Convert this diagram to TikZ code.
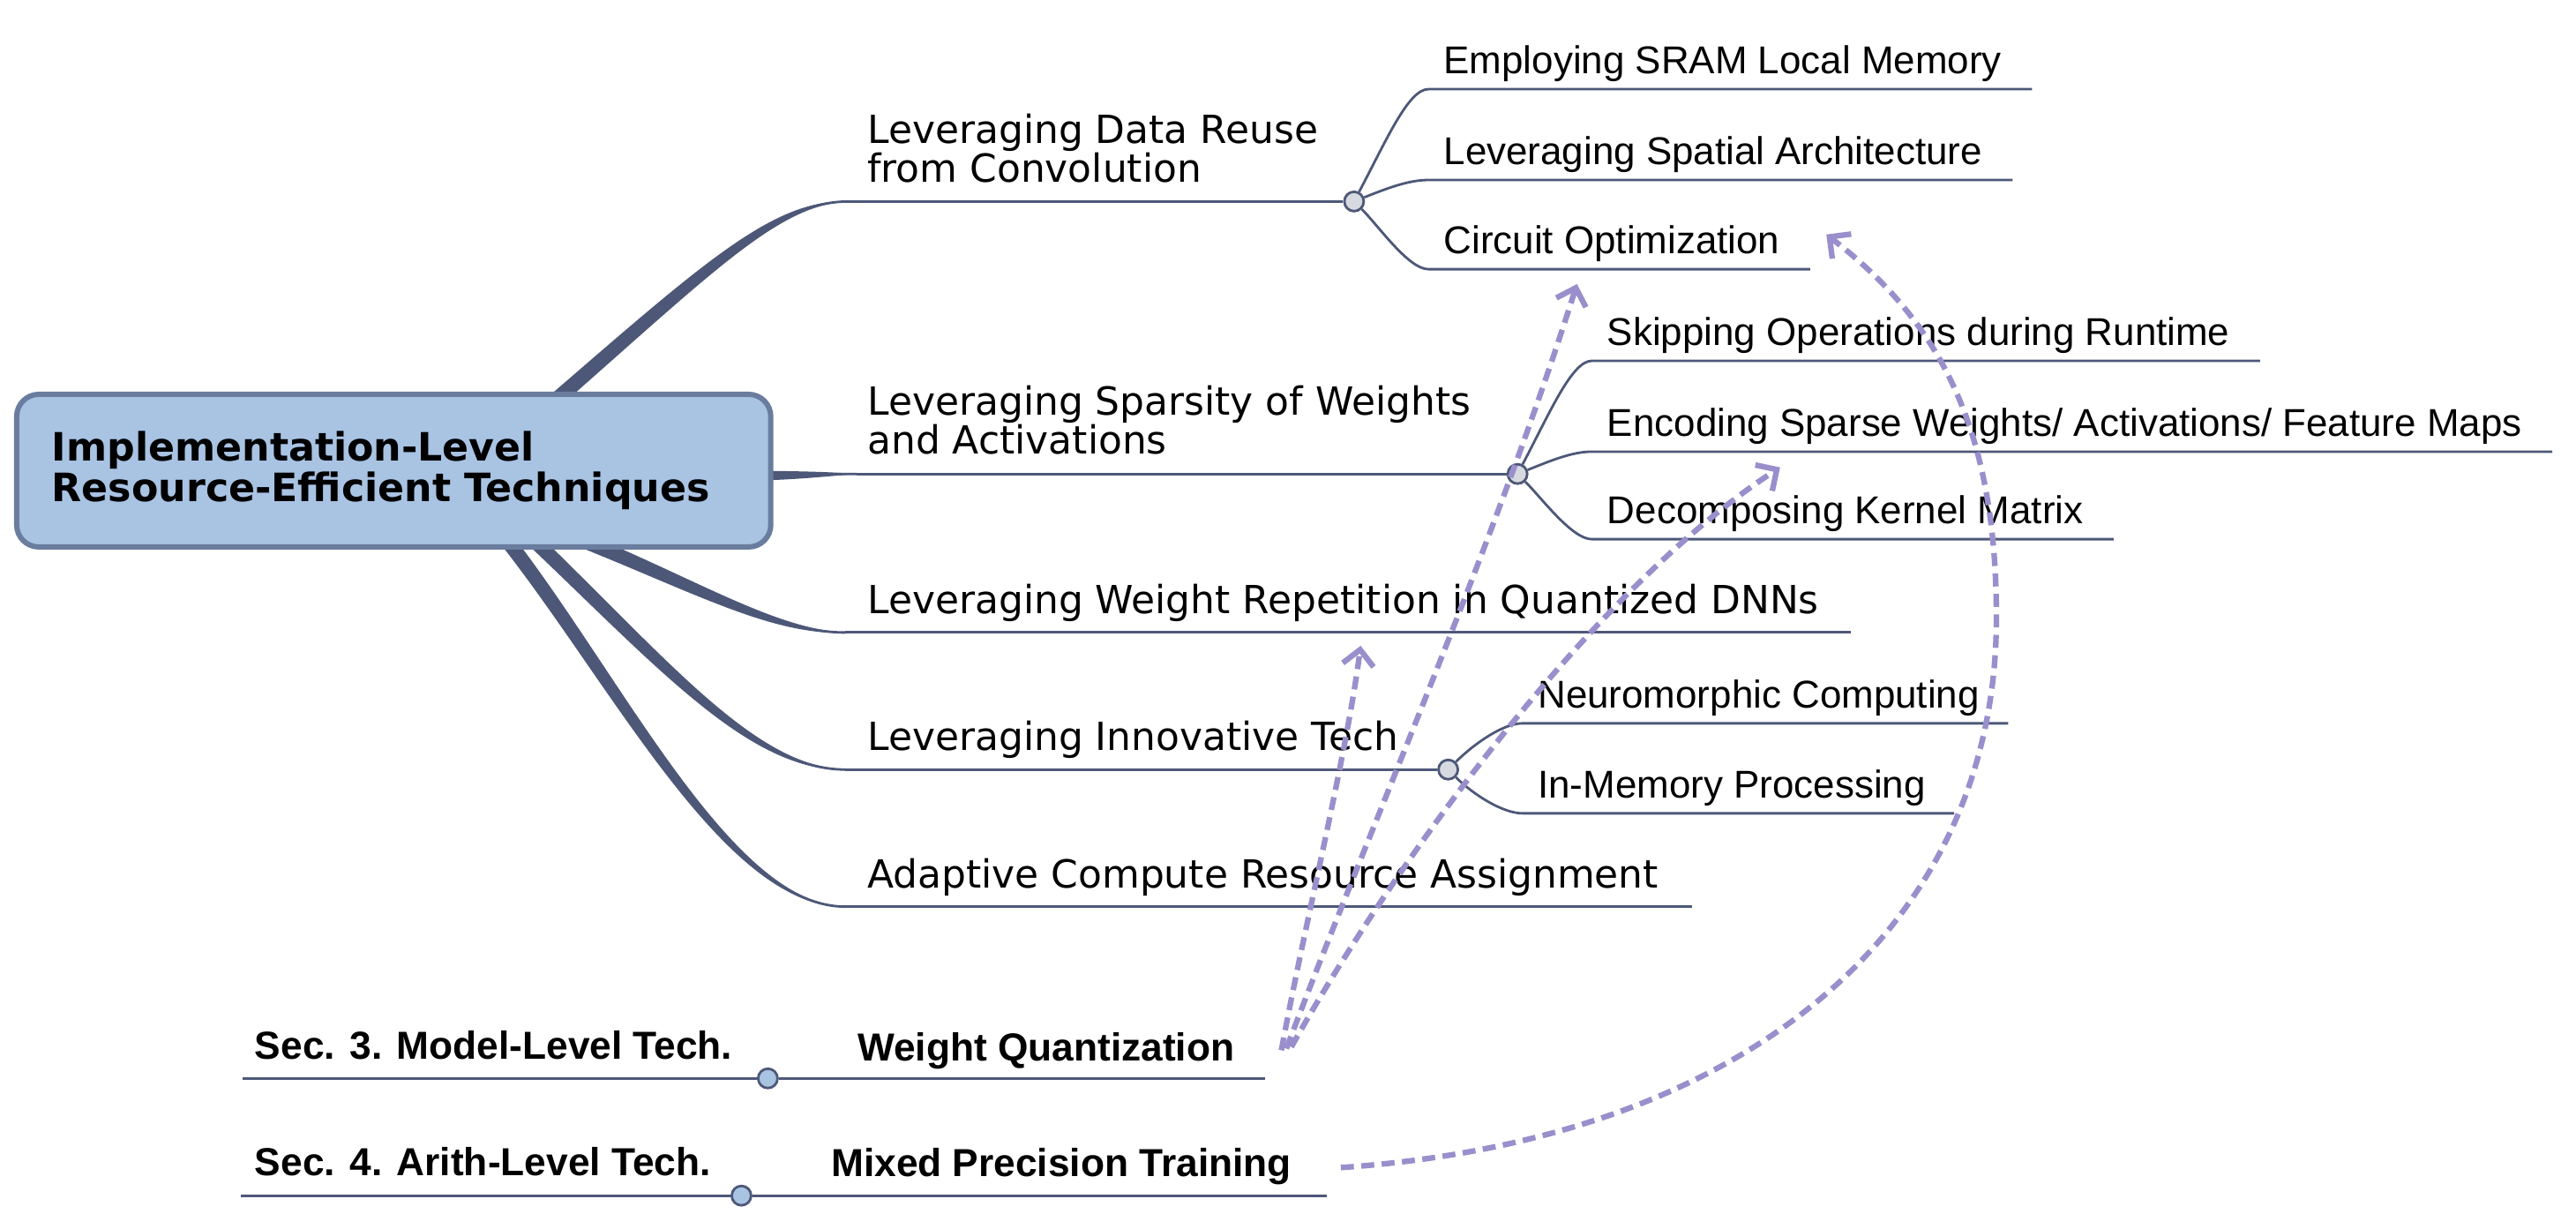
\documentclass[tikz,border=0pt]{standalone}
\usepackage{fontspec}
\setmainfont{DejaVu Sans}
\newfontfamily\arial{Liberation Sans}
\usetikzlibrary{arrows.meta,calc,backgrounds}

\definecolor{limbcol}{HTML}{4D5878}
\definecolor{rootfill}{HTML}{A9C3E3}
\definecolor{rootline}{HTML}{6A7D9F}
\definecolor{hubfill}{HTML}{D6D9E0}
\definecolor{linkcol}{HTML}{9A8FCC}

% tapered branch: start, control, control, end, half width at start
\newcommand{\limb}[5]{%
  \fill[limbcol] ($(#1)+(#5)$) .. controls ($(#2)+0.9*(#5)$) and ($(#3)+0.5*(#5)$) .. (#4)
    .. controls ($(#3)-0.5*(#5)$) and ($(#2)-0.9*(#5)$) .. ($(#1)-(#5)$) -- cycle;
  \draw[twig] (#1) .. controls (#2) and (#3) .. (#4);}

\tikzset{
  twig/.style={draw=limbcol, line width=0.8pt},
  rootbox/.style={draw=rootline, fill=rootfill, line width=1.7pt, rounded corners=0.25cm,
    minimum height=1.73cm, text width=7.75cm, inner xsep=0.4cm, align=left,
    font=\bfseries\fontsize{12.6}{11.9}\selectfont},
  topic/.style={font=\fontsize{12.5}{12.5}\selectfont, inner sep=0pt, anchor=south west,
    text depth=0pt, align=left},
  leaf/.style={font=\arial\fontsize{12.5}{14}\selectfont, inner sep=0pt, anchor=south west,
    text depth=0pt},
  sect/.style={leaf, font=\arial\bfseries\fontsize{12.6}{14}\selectfont},
  hub/.style={circle, draw=limbcol, fill=hubfill, line width=0.8pt, minimum size=0.22cm,
    inner sep=0pt},
  link/.style={draw=linkcol, line width=1.8pt, dash pattern=on 4.2pt off 2.4pt,
    -{Straight Barb[length=5pt,width=10pt]}},
}

\begin{document}
\begin{tikzpicture}[x=0.01872cm, y=-0.01872cm]
  \useasboundingbox (0,0) rectangle (1560,735);

  % centre topic
  \node[rootbox, anchor=west] (rt) at (8.5,285) {Implementation-Level\\Resource-Efficient Techniques};

  % first level
  \node[topic] (reuse) at (525,110.5) {Leveraging Data Reuse\\from Convolution};
  \node[topic] (sparse) at (525,275) {Leveraging Sparsity of Weights\\and Activations};
  \node[topic] (repeat) at (525,372) {Leveraging Weight Repetition in Quantized DNNs};
  \node[topic] (innov) at (525,455) {Leveraging Innovative Tech};
  \node[topic] (adapt) at (525,538) {Adaptive Compute Resource Assignment};
  \node[hub] (hub1) at (820,122) {};
  \node[hub] (hub2) at (919,287) {};
  \node[hub] (hub3) at (877,466) {};

  % second level
  \node[leaf] (sram) at (874,45) {Employing SRAM Local Memory};
  \node[leaf] (spatial) at (874,100) {Leveraging Spatial Architecture};
  \node[leaf] (circuit) at (874,154) {Circuit Optimization};
  \node[leaf] (skip) at (973,209.5) {Skipping Operations during Runtime};
  \node[leaf] (encode) at (973,264.5) {Encoding Sparse Weights/ Activations/ Feature Maps};
  \node[leaf] (decomp) at (973,317.5) {Decomposing Kernel Matrix};
  \node[leaf] (neuro) at (931,429) {Neuromorphic Computing};
  \node[leaf] (inmem) at (931,483.5) {In-Memory Processing};

  % other sections
  \node[sect] (sec3) at (154,642) {Sec. 3. Model-Level Tech.};
  \node[sect] (wq) at (519,643) {Weight Quantization};
  \node[sect] (sec4) at (154,712) {Sec. 4. Arith-Level Tech.};
  \node[sect] (mpt) at (503,713) {Mixed Precision Training};
  \node[hub, fill=rootfill] (dot3) at (465,653) {};
  \node[hub, fill=rootfill] (dot4) at (449,724) {};

  \begin{scope}[on background layer]
    \coordinate (rt1) at (330,248);
    \coordinate (rt2) at (455,288);
    \coordinate (rt3) at (345,324);
    \coordinate (rt4) at (318,322);
    \coordinate (rt5) at (303,322);
    \coordinate (reuse-s) at (514,122);
    \coordinate (sparse-s) at (519,287);
    \coordinate (repeat-s) at (512,383);
    \coordinate (innov-s) at (512,466);
    \coordinate (adapt-s) at (512,549);
    \limb{rt1}{430,161}{470,122}{reuse-s}{3,3.4}
    \limb{rt2}{480,288}{500,287}{sparse-s}{0,3}
    \limb{rt3}{420,354}{468,383}{repeat-s}{-1.7,4.2}
    \limb{rt4}{400,400}{455,466}{innov-s}{-3.1,3.2}
    \limb{rt5}{373,410}{440,549}{adapt-s}{-3.5,2.8}
    \draw[twig] (reuse-s) -- (hub1);
    \draw[twig] (sparse-s) -- (hub2);
    \draw[twig] (repeat-s) -- ($(repeat.south east)+(19,11)$);
    \draw[twig] (innov-s) -- (hub3);
    \draw[twig] (adapt-s) -- ($(adapt.south east)+(20,11)$);
    % leaves
    \foreach \k/\c in {sram/{20,-38}, spatial/{20,-8}, circuit/{15,15}}
      \draw[twig] (hub1) .. controls +(\c) and +(-12,0) .. ($(\k.south west)+(-9,9)$)
        -- ($(\k.south east)+(18,9)$);
    \foreach \k/\c in {skip/{20,-38}, encode/{20,-8}, decomp/{15,15}}
      \draw[twig] (hub2) .. controls +(\c) and +(-12,0) .. ($(\k.south west)+(-9,9)$)
        -- ($(\k.south east)+(18,9)$);
    \foreach \k/\c in {neuro/{15,-15}, inmem/{15,15}}
      \draw[twig] (hub3) .. controls +(\c) and +(-12,0) .. ($(\k.south west)+(-9,9)$)
        -- ($(\k.south east)+(17,9)$);
    % section rows
    \draw[twig] ($(sec3.south west)+(-7,11)$) -- (dot3) -- ($(wq.south west)+(-16,10)$)
      -- ($(wq.south east)+(18,10)$);
    \draw[twig] ($(sec4.south west)+(-8,12)$) -- (dot4) -- ($(mpt.south west)+(-15,11)$)
      -- ($(mpt.south east)+(21,11)$);
  \end{scope}

  % links to the other sections
  \coordinate (wq-a) at (776,636);
  \coordinate (wq-b) at (779,635);
  \coordinate (wq-c) at (782,634);
  \coordinate (mpt-o) at (812,707);
  \coordinate (repeat-i) at (824,391);
  \coordinate (circuit-i) at (955,172);
  \coordinate (encode-i) at (1078,283);
  \coordinate (circuit-j) at (1106,142);
  \draw[link] (wq-a) .. controls (790,560) and (815,460) .. (repeat-i);
  \draw[link] (wq-b) .. controls (830,500) and (905,330) .. (circuit-i);
  \draw[link] (wq-c) .. controls (840,530) and (960,360) .. (encode-i);
  \draw[link] (mpt-o) .. controls (1060,690) and (1209,560) .. (1209,374)
    .. controls (1209,260) and (1175,195) .. (circuit-j);
\end{tikzpicture}
\end{document}
